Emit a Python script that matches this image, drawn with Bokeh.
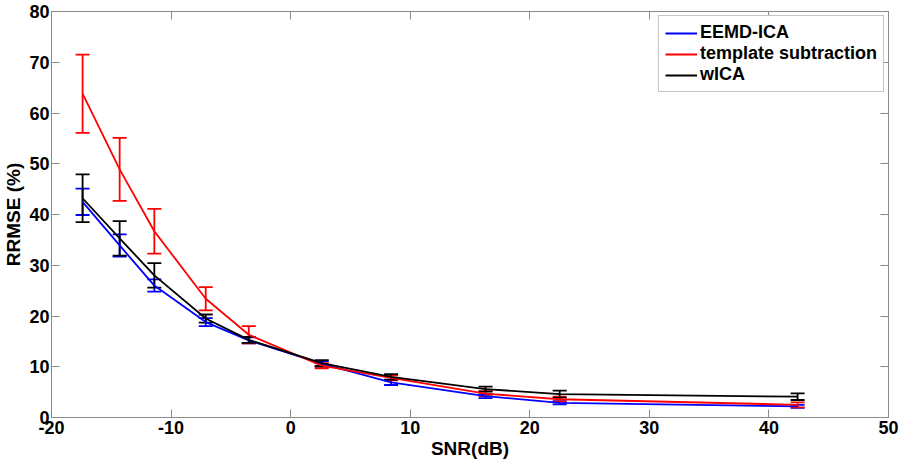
from bokeh.plotting import figure
from bokeh.models import Whisker, ColumnDataSource, LinearAxis, Legend, LegendItem, Range1d, FixedTicker, TeeHead
from bokeh.embed import file_html
from bokeh.resources import INLINE

snr = [-17.4, -14.3, -11.4, -7.1, -3.5, 2.6, 8.4, 16.3, 22.5, 42.4]
eemd_ica = [42.5, 33.9, 26.0, 18.8, 15.2, 10.6, 6.9, 4.2, 2.9, 2.2]
eemd_ica_err = [2.6, 2.2, 1.2, 0.8, 0.6, 0.5, 0.5, 0.4, 0.3, 0.3]
template_sub = [63.8, 48.9, 36.7, 23.4, 16.3, 10.2, 7.8, 4.7, 3.6, 2.5]
template_sub_err = [7.7, 6.2, 4.4, 2.3, 1.7, 0.5, 0.5, 0.5, 0.5, 0.5]
wica = [43.2, 35.3, 28.0, 19.5, 15.3, 10.7, 8.0, 5.6, 4.6, 4.1]
wica_err = [4.7, 3.4, 2.4, 0.8, 0.6, 0.6, 0.55, 0.5, 0.7, 0.65]
x_ticks = [-20, -10, 0, 10, 20, 30, 40, 50]
x_tick_labels = ["-20", "-10", "0", "10", "20", "30", "40", "50"]
y_ticks = [0, 10, 20, 30, 40, 50, 60, 70, 80]
y_tick_labels = ["0", "10", "20", "30", "40", "50", "60", "70", "80"]

FONT = "Liberation Sans"
AX = "#8a8a8a"

p = figure(width=902, height=463, output_backend="svg", toolbar_location=None,
           x_range=Range1d(-20, 50), y_range=Range1d(0, 80),
           min_border_left=51, min_border_right=14, min_border_top=11, min_border_bottom=46)
p.xgrid.visible = False
p.ygrid.visible = False
p.outline_line_color = AX
p.background_fill_color = "white"
p.border_fill_color = "white"

def style_axis(ax):
    ax.axis_line_color = AX
    ax.major_tick_line_color = AX
    ax.minor_tick_line_color = None
    ax.major_tick_in = 8
    ax.major_tick_out = 0
    ax.major_label_text_font = FONT
    ax.major_label_text_font_style = "bold"
    ax.major_label_text_font_size = "18px"
    ax.major_label_text_color = "black"
    ax.axis_label_text_font = FONT
    ax.axis_label_text_font_style = "bold"
    ax.axis_label_text_font_size = "19px"
    ax.axis_label_text_color = "black"

p.xaxis.ticker = FixedTicker(ticks=x_ticks)
p.yaxis.ticker = FixedTicker(ticks=y_ticks)
style_axis(p.xaxis[0])
style_axis(p.yaxis[0])
p.xaxis.major_label_overrides = dict(zip(x_ticks, x_tick_labels))
p.yaxis.major_label_overrides = dict(zip(y_ticks, y_tick_labels))
p.xaxis.axis_label = "SNR(dB)"
p.yaxis.axis_label = "RRMSE (%)"
p.xaxis.major_label_standoff = 3
p.xaxis.axis_label_standoff = 1
p.yaxis.major_label_standoff = 2
p.yaxis.axis_label_standoff = 2

top = LinearAxis(ticker=FixedTicker(ticks=x_ticks))
right = LinearAxis(ticker=FixedTicker(ticks=y_ticks))
style_axis(top)
style_axis(right)
top.major_label_overrides = {t: "" for t in x_ticks}
right.major_label_overrides = {t: "" for t in y_ticks}
top.major_label_standoff = 0
right.major_label_standoff = 0
p.add_layout(top, "above")
p.add_layout(right, "right")

series = [
    ("EEMD-ICA", eemd_ica, eemd_ica_err, "#0000ff"),
    ("template subtraction", template_sub, template_sub_err, "#ff0000"),
    ("wICA", wica, wica_err, "#000000"),
]
items = []
for name, vals, errs, col in series:
    src = ColumnDataSource(dict(x=snr, y=vals,
                                lo=[v - e for v, e in zip(vals, errs)],
                                hi=[v + e for v, e in zip(vals, errs)]))
    r = p.line("x", "y", source=src, line_color=col, line_width=1.8)
    w = Whisker(source=src, base="x", lower="lo", upper="hi", line_color=col, line_width=1.8,
                lower_head=TeeHead(size=14, line_color=col, line_width=1.8),
                upper_head=TeeHead(size=14, line_color=col, line_width=1.8))
    p.add_layout(w)
    items.append(LegendItem(label=name, renderers=[r]))

legend = Legend(items=items, location="top_right")
legend.margin = 4
legend.padding = 6
legend.spacing = 0
legend.glyph_width = 32
legend.glyph_height = 20
legend.label_standoff = 3
legend.label_height = 20
legend.label_text_font = FONT
legend.label_text_font_style = "bold"
legend.label_text_font_size = "18px"
legend.label_text_color = "black"
legend.border_line_color = AX
legend.border_line_width = 1
legend.background_fill_color = "white"
legend.background_fill_alpha = 1
p.add_layout(legend)

open("out.html", "w").write(file_html(p, INLINE))
